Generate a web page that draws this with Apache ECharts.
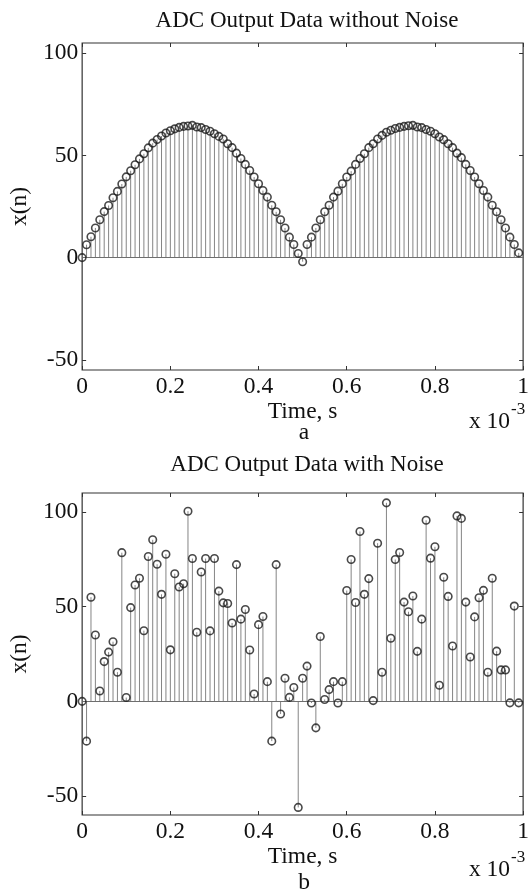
<!DOCTYPE html>
<html>
<head>
<meta charset="utf-8">
<title>ADC Output Data</title>
<script src="https://cdn.jsdelivr.net/npm/echarts@6/dist/echarts.min.js"></script>
<style>
  html, body { margin: 0; padding: 0; background: #fff; }
  #chart { width: 532px; height: 894px; }
</style>
</head>
<body>
<div id="chart"></div>
<script>
// sample instants, in units of 1e-3 s
var sampleTimes = [
  0.00, 0.01, 0.02, 0.03, 0.04, 0.05, 0.06, 0.07, 0.08, 0.09,
  0.10, 0.11, 0.12, 0.13, 0.14, 0.15, 0.16, 0.17, 0.18, 0.19,
  0.20, 0.21, 0.22, 0.23, 0.24, 0.25, 0.26, 0.27, 0.28, 0.29,
  0.30, 0.31, 0.32, 0.33, 0.34, 0.35, 0.36, 0.37, 0.38, 0.39,
  0.40, 0.41, 0.42, 0.43, 0.44, 0.45, 0.46, 0.47, 0.48, 0.49,
  0.50, 0.51, 0.52, 0.53, 0.54, 0.55, 0.56, 0.57, 0.58, 0.59,
  0.60, 0.61, 0.62, 0.63, 0.64, 0.65, 0.66, 0.67, 0.68, 0.69,
  0.70, 0.71, 0.72, 0.73, 0.74, 0.75, 0.76, 0.77, 0.78, 0.79,
  0.80, 0.81, 0.82, 0.83, 0.84, 0.85, 0.86, 0.87, 0.88, 0.89,
  0.90, 0.91, 0.92, 0.93, 0.94, 0.95, 0.96, 0.97, 0.98, 0.99
];

// (a) without noise
var cleanValues = [
  0, 6.3, 10.2, 14.5, 18.5, 22.5, 25.5, 29.3, 32.4, 36,
  39.5, 42.5, 45.4, 48.3, 50.8, 53.7, 56, 57.8, 59.5, 61,
  62.1, 63, 63.7, 64.2, 64.4, 64.7, 63.9, 63.6, 62.7, 61.8,
  60.6, 59.3, 58, 55.7, 53.8, 51.1, 48.5, 45.6, 42.6, 39.4,
  36.1, 32.8, 29.6, 25.6, 22.4, 18.5, 14.5, 10, 6.4, 2,
  -2, 6.4, 10, 14.5, 18.5, 22.4, 25.6, 29.6, 32.5, 36.1,
  39.4, 42.3, 45.6, 48.5, 50.8, 53.8, 55.7, 58, 59.8, 61.3,
  62.3, 63.2, 63.7, 64.2, 64.5, 64.7, 63.9, 63.6, 62.7, 61.8,
  60.6, 59, 57.7, 55.7, 53.8, 51.1, 48.9, 45.6, 42.6, 39.4,
  36.1, 32.8, 29.6, 25.6, 22.4, 18.5, 14.5, 10, 6.4, 2.3
];

// (b) with noise
var noisyValues = [
  0, -21, 55, 35, 5.5, 21, 26, 31.5, 15.4, 78.5,
  2, 49.5, 61.4, 65, 37.3, 76.5, 85.3, 72.4, 56.5, 77.7,
  27.2, 67.4, 60.4, 62.1, 100.4, 75.4, 36.5, 68.3, 75.4, 37.2,
  75.4, 58.2, 52, 51.7, 41.4, 72.2, 43.4, 48.5, 27.1, 3.9,
  40.5, 44.8, 10.4, -21, 72.2, -6.7, 12.2, 2.1, 7.3, -56,
  12.2, 18.6, -0.9, -14, 34.2, 1, 6.2, 10.4, -0.9, 10.4,
  58.5, 74.9, 52.2, 89.7, 56.5, 64.8, 0.4, 83.5, 15.4, 104.8,
  33.3, 74.9, 78.6, 52.4, 47.3, 55.6, 26.4, 43.4, 95.6, 75.6,
  81.6, 8.5, 65.5, 55.4, 29.2, 97.9, 96.6, 52.4, 23.4, 44.6,
  54.7, 58.6, 15.4, 65, 26.5, 16.6, 16.6, -0.8, 50.3, -0.8
];

var xTickValues = [0, 0.2, 0.4, 0.6, 0.8, 1];
var yTickValues = [-50, 0, 50, 100];
var topRange = [-55, 105];
var bottomRange = [-60, 110];

var serif = "'Liberation Serif', 'DejaVu Serif', serif";
var ink = '#111';
var frame = '#333';
var stemColor = '#858585';
var labelSize = 23.5;

function pairs(values) {
  return values.map(function (v, i) { return [sampleTimes[i], v]; });
}

function xAxisFor(grid, pos, labelled) {
  return {
    type: 'value', gridIndex: grid, position: pos, min: 0, max: 1,
    axisLine: { show: false, onZero: false },
    axisTick: { show: true, inside: true, length: 4, customValues: xTickValues, lineStyle: { color: frame } },
    axisLabel: { show: labelled, customValues: xTickValues, margin: 5,
      fontFamily: serif, fontSize: labelSize, color: ink },
    splitLine: { show: false },
    name: labelled ? 'Time, s' : '', nameLocation: 'middle', nameGap: 27,
    nameTextStyle: { fontFamily: serif, fontSize: labelSize, color: ink }
  };
}

function yAxisFor(grid, pos, range, labelled) {
  return {
    type: 'value', gridIndex: grid, position: pos, min: range[0], max: range[1],
    axisLine: { show: false, onZero: false },
    axisTick: { show: true, inside: true, length: 4, customValues: yTickValues, lineStyle: { color: frame } },
    axisLabel: { show: labelled, customValues: yTickValues, margin: 4,
      fontFamily: serif, fontSize: labelSize, color: ink },
    splitLine: { show: false },
    name: labelled ? 'x(n)' : '', nameLocation: 'middle', nameGap: 47,
    nameTextStyle: { fontFamily: serif, fontSize: labelSize, color: ink }
  };
}

function stemItem(params, api) {
  var tip = api.coord([api.value(0), api.value(1)]);
  var base = api.coord([api.value(0), 0]);
  return {
    type: 'line',
    shape: { x1: tip[0], y1: tip[1], x2: base[0], y2: base[1] },
    style: { stroke: stemColor, lineWidth: 1 }
  };
}

function stemSeries(axis, values) {
  return {
    type: 'custom', xAxisIndex: axis, yAxisIndex: axis,
    renderItem: stemItem, encode: { x: 0, y: 1 },
    data: pairs(values), silent: true
  };
}

function markerSeries(axis, values) {
  return {
    type: 'scatter', xAxisIndex: axis, yAxisIndex: axis,
    symbol: 'circle', symbolSize: 7.5,
    itemStyle: { color: 'rgba(255,255,255,0)', borderColor: '#1c1c1c', borderWidth: 1.6 },
    data: pairs(values), silent: true, z: 5,
    markLine: {
      silent: true, symbol: 'none', label: { show: false },
      lineStyle: { color: '#6e6e6e', width: 1, type: 'solid' },
      data: [{ yAxis: 0 }]
    }
  };
}

var chart = echarts.init(document.getElementById('chart'), null, { renderer: 'canvas' });
var option = {
  backgroundColor: '#fff',
  animation: false,
  title: [
    { text: 'ADC Output Data without Noise', left: 302, top: 4, textAlign: 'center',
      textStyle: { fontFamily: serif, fontWeight: 'normal', fontSize: 23, color: ink } },
    { text: 'ADC Output Data with Noise', left: 302, top: 448, textAlign: 'center',
      textStyle: { fontFamily: serif, fontWeight: 'normal', fontSize: 23, color: ink } }
  ],
  grid: [
    { left: 80, right: 5, top: 43, height: 327, show: true, borderColor: frame, borderWidth: 1.2 },
    { left: 80, right: 5, top: 493, height: 322, show: true, borderColor: frame, borderWidth: 1.2 }
  ],
  xAxis: [
    xAxisFor(0, 'bottom', true), xAxisFor(0, 'top', false),
    xAxisFor(1, 'bottom', true), xAxisFor(1, 'top', false)
  ],
  yAxis: [
    yAxisFor(0, 'left', topRange, true), yAxisFor(0, 'right', topRange, false),
    yAxisFor(1, 'left', bottomRange, true), yAxisFor(1, 'right', bottomRange, false)
  ],
  graphic: [
    { type: 'text', x: 510, y: 422, style: { text: 'x 10', fontFamily: serif, fontSize: labelSize, fill: ink, align: 'right', verticalAlign: 'middle' } },
    { type: 'text', x: 511, y: 410, style: { text: '-3', fontFamily: serif, fontSize: 17, fill: ink, align: 'left', verticalAlign: 'middle' } },
    { type: 'text', x: 304, y: 433, style: { text: 'a', fontFamily: serif, fontSize: labelSize, fill: ink, align: 'center', verticalAlign: 'middle' } },
    { type: 'text', x: 510, y: 870, style: { text: 'x 10', fontFamily: serif, fontSize: labelSize, fill: ink, align: 'right', verticalAlign: 'middle' } },
    { type: 'text', x: 511, y: 858, style: { text: '-3', fontFamily: serif, fontSize: 17, fill: ink, align: 'left', verticalAlign: 'middle' } },
    { type: 'text', x: 304, y: 883, style: { text: 'b', fontFamily: serif, fontSize: labelSize, fill: ink, align: 'center', verticalAlign: 'middle' } }
  ],
  series: [
    stemSeries(0, cleanValues), markerSeries(0, cleanValues),
    stemSeries(2, noisyValues), markerSeries(2, noisyValues)
  ]
};
chart.setOption(option);
window.addEventListener('resize', function () { chart.resize(); });
</script>
</body>
</html>
